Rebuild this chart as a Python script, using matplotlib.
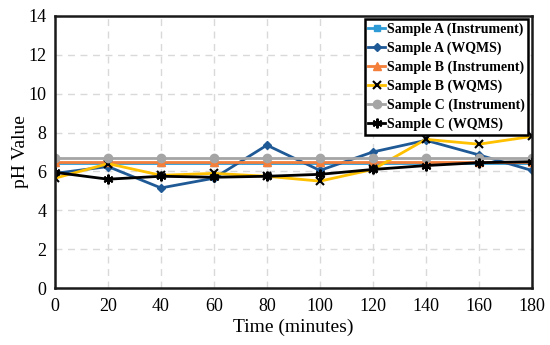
import matplotlib
matplotlib.use('Agg')
import matplotlib.pyplot as plt

plt.rcParams['font.family'] = ['Liberation Serif', 'DejaVu Serif']

time = [0, 20, 40, 60, 80, 100, 120, 140, 160, 180]
a_instr = [6.45] * 10
a_wqms = [5.9, 6.25, 5.15, 5.65, 7.35, 6.05, 7.0, 7.6, 6.85, 6.05]
b_instr = [6.5] * 10
b_wqms = [5.65, 6.4, 5.8, 5.9, 5.75, 5.5, 6.1, 7.65, 7.4, 7.8]
c_instr = [6.7] * 10
c_wqms = [5.95, 5.6, 5.75, 5.7, 5.75, 5.85, 6.1, 6.3, 6.45, 6.5]

series = [
    ('Sample A (Instrument)', a_instr, '#2E9BD6', 's', 5),
    ('Sample A (WQMS)', a_wqms, '#1F5A96', 'D', 4.5),
    ('Sample B (Instrument)', b_instr, '#F47F3A', '^', 6),
    ('Sample B (WQMS)', b_wqms, '#FFC000', 'x', 6),
    ('Sample C (Instrument)', c_instr, '#A5A5A5', 'o', 6),
    ('Sample C (WQMS)', c_wqms, '#000000', (6, 2, 0), 7),
]

fig = plt.figure(figsize=(5.5, 3.45), dpi=100)
ax = fig.add_axes([0.1, 0.165, 0.867, 0.789])

for name, vals, col, mk, ms in series:
    ax.plot(time, vals, color=col, lw=2.0, marker=mk, ms=ms,
            mew=1.5 if mk in ('x', (6, 2, 0)) else 1,
            mec='black' if name == 'Sample B (WQMS)' else col, label=name)

ax.set_xlim(0, 180)
ax.set_ylim(0, 14)
ax.set_xticks(time)
ax.set_yticks(range(0, 15, 2))
ax.grid(True, ls=(0, (5, 4)), color='#D9D9D9', lw=1)
ax.tick_params(axis='x', length=0, labelsize=13, pad=7)
ax.tick_params(axis='y', length=0, labelsize=13, pad=6)
for s in ax.spines.values():
    s.set_color('#1a1a1a')
    s.set_linewidth(1.8)
ax.set_xlabel('Time (minutes)', fontsize=14, labelpad=3)
ax.set_ylabel('pH Value', fontsize=14, labelpad=0)

leg = ax.legend(loc='upper right', prop={'weight': 'bold', 'size': 10},
                frameon=True, fancybox=False, framealpha=1,
                handlelength=1.2, handletextpad=0.15, labelspacing=0.4,
                borderpad=0.25, borderaxespad=0.25)
leg.get_frame().set_edgecolor('black')
leg.get_frame().set_linewidth(1.8)

fig.savefig('out.png', dpi=100)
